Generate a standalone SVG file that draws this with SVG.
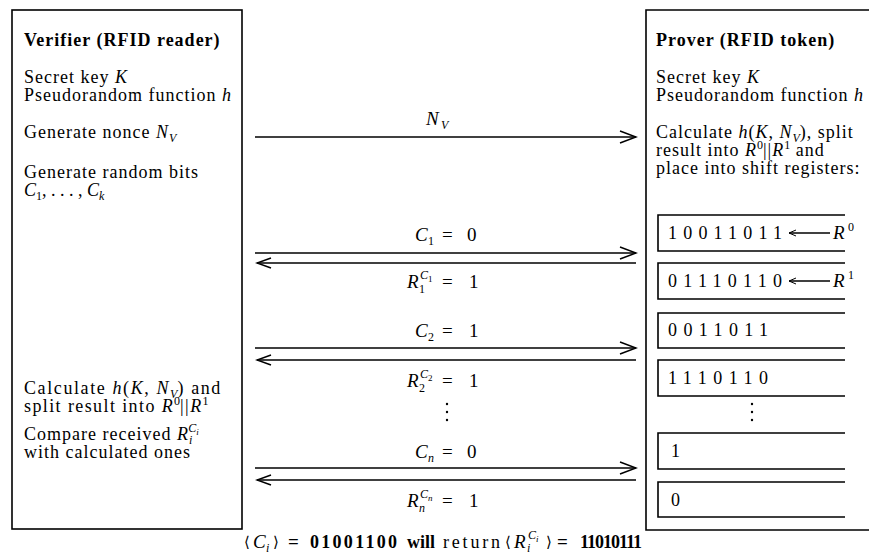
<svg xmlns="http://www.w3.org/2000/svg" width="869" height="559" viewBox="0 0 869 559">
<style>
text{font-family:"Liberation Serif","Times New Roman",serif;fill:#000}
.t{font-size:18px;letter-spacing:1px}
.m{font-size:19px}
.d{font-size:18px}
.b{font-weight:bold}
.i{font-style:italic}
.s{font-size:12px;letter-spacing:0}
.ss{font-size:9px;letter-spacing:0}
.ang{font-family:"DejaVu Serif","Liberation Serif",serif;font-size:15px}
.box{fill:none;stroke:#000;stroke-width:1.6}
.ln{fill:none;stroke:#000;stroke-width:1.5}
</style>
<defs>
<marker id="ah" markerUnits="userSpaceOnUse" markerWidth="20" markerHeight="16" viewBox="0 0 20 16" refX="18" refY="8" orient="auto"><path d="M2,2 L18,8 L2,14" fill="none" stroke="#000" stroke-width="1.5"/></marker>
<marker id="ahb" markerUnits="userSpaceOnUse" markerWidth="18" markerHeight="14" viewBox="0 0 18 14" refX="16" refY="7" orient="auto"><path d="M2,2 L16,7 L2,12" fill="none" stroke="#000" stroke-width="1.5"/></marker>
<marker id="ahx" markerUnits="userSpaceOnUse" markerWidth="10" markerHeight="8" viewBox="0 0 10 8" refX="9" refY="4" orient="auto"><path d="M2,1 L9,4 L2,7" fill="none" stroke="#000" stroke-width="1"/></marker>
</defs>
<rect width="869" height="559" fill="#fff"/>

<g id="verifier">
<rect class="box" x="12" y="10" width="230" height="519"/>
<text x="24" y="46" class="t b">Verifier (RFID reader)</text>
<text x="24" y="83" class="t">Secret key <tspan class="i">K</tspan></text>
<text x="24" y="101" class="t">Pseudorandom function <tspan class="i">h</tspan></text>
<text x="24" y="138" class="t">Generate nonce <tspan class="i">N</tspan><tspan class="i s" dy="4">V</tspan></text>
<text x="24" y="178" class="t">Generate random bits</text>
<text x="24" y="196" class="t" style="letter-spacing:0"><tspan class="i">C</tspan><tspan class="s" dy="4">1</tspan><tspan dy="-4">, . . . , </tspan><tspan class="i">C</tspan><tspan class="i s" dy="4">k</tspan></text>
<text x="24" y="394" class="t" style="letter-spacing:1.6px">Calculate <tspan class="i">h</tspan>(<tspan class="i">K</tspan>, <tspan class="i">N</tspan><tspan class="i s" dy="4">V</tspan><tspan dy="-4">) and</tspan></text>
<text x="24" y="412" class="t" style="letter-spacing:1.4px">split result into <tspan class="i">R</tspan><tspan class="s" dy="-7">0</tspan><tspan dy="7">||</tspan><tspan class="i">R</tspan><tspan class="s" dy="-7">1</tspan></text>
<text x="24" y="440" class="t">Compare received <tspan class="i">R</tspan><tspan class="i s" dy="4">i</tspan><tspan class="i s" dx="-4" dy="-12">C</tspan><tspan class="i ss" dy="3">i</tspan></text>
<text x="24" y="458" class="t">with calculated ones</text>
</g>

<g id="prover">
<path class="box" d="M880,10 H646 V530 H880"/>
<text x="656" y="46" class="t b">Prover (RFID token)</text>
<text x="656" y="83" class="t">Secret key <tspan class="i">K</tspan></text>
<text x="656" y="101" class="t">Pseudorandom function <tspan class="i">h</tspan></text>
<text x="656" y="138" class="t">Calculate <tspan class="i">h</tspan>(<tspan class="i">K</tspan>, <tspan class="i">N</tspan><tspan class="i s" dy="4">V</tspan><tspan dy="-4">), split</tspan></text>
<text x="656" y="156" class="t">result into <tspan class="i">R</tspan><tspan class="s" dy="-7">0</tspan><tspan dy="7">||</tspan><tspan class="i">R</tspan><tspan class="s" dy="-7">1</tspan><tspan dy="7"> and</tspan></text>
<text x="656" y="174" class="t">place into shift registers:</text>
</g>

<g id="reg1">
<path class="box" d="M845,215 H658 V251 H845"/>
<text x="668" y="239" class="d" textLength="114" lengthAdjust="spacing">10011011</text>
<path class="ln" d="M830,233 H789" stroke-width="1.2" marker-end="url(#ahx)"/>
<text x="833" y="239" class="m i">R</text><text x="848" y="231" class="d s">0</text>
</g>
<g id="reg2">
<path class="box" d="M845,263 H658 V299 H845"/>
<text x="668" y="287" class="d" textLength="114" lengthAdjust="spacing">01110110</text>
<path class="ln" d="M830,281 H789" stroke-width="1.2" marker-end="url(#ahx)"/>
<text x="833" y="287" class="m i">R</text><text x="848" y="279" class="d s">1</text>
</g>
<g id="reg3">
<path class="box" d="M845,313 H658 V348 H845"/>
<text x="668" y="336" class="d" textLength="100" lengthAdjust="spacing">0011011</text>
</g>
<g id="reg4">
<path class="box" d="M845,360 H658 V396 H845"/>
<text x="668" y="384" class="d" textLength="100" lengthAdjust="spacing">1110110</text>
</g>
<g id="regdots">
<circle cx="752" cy="404" r="1.2"/><circle cx="752" cy="412" r="1.2"/><circle cx="752" cy="420" r="1.2"/>
</g>
<g id="reg5">
<path class="box" d="M845,433 H658 V469 H845"/>
<text x="671" y="457" class="d">1</text>
</g>
<g id="reg6">
<path class="box" d="M845,482 H658 V517 H845"/>
<text x="671" y="506" class="d">0</text>
</g>

<g id="connectors">
<path class="ln" d="M255,137 H636" marker-end="url(#ah)"/>
<path class="ln" d="M255,253 H636" marker-end="url(#ah)"/>
<path class="ln" d="M636,263 H257" marker-end="url(#ahb)"/>
<path class="ln" d="M255,348 H636" marker-end="url(#ah)"/>
<path class="ln" d="M636,360 H257" marker-end="url(#ahb)"/>
<path class="ln" d="M255,468 H636" marker-end="url(#ah)"/>
<path class="ln" d="M636,480 H257" marker-end="url(#ahb)"/>
</g>

<g id="labels">
<text x="426" y="125" class="m i">N</text><text x="441" y="129" class="d i s">V</text>

<text x="415" y="241" class="m i">C</text><text x="428" y="245" class="d s">1</text>
<text x="442" y="241" class="m">=</text><text x="467" y="241" class="m">0</text>

<text x="407" y="288" class="m i">R</text><text x="419" y="293" class="d s">1</text>
<text x="420" y="279" class="d s i">C</text><text x="428" y="282" class="d ss">1</text>
<text x="442" y="288" class="m">=</text><text x="469" y="288" class="m">1</text>

<text x="415" y="337" class="m i">C</text><text x="428" y="341" class="d s">2</text>
<text x="442" y="337" class="m">=</text><text x="469" y="337" class="m">1</text>

<text x="407" y="387" class="m i">R</text><text x="419" y="392" class="d s">2</text>
<text x="420" y="378" class="d s i">C</text><text x="428" y="381" class="d ss">2</text>
<text x="442" y="387" class="m">=</text><text x="469" y="387" class="m">1</text>

<circle cx="447" cy="404" r="1.2"/><circle cx="447" cy="412" r="1.2"/><circle cx="447" cy="420" r="1.2"/>

<text x="415" y="458" class="m i">C</text><text x="428" y="462" class="d s i">n</text>
<text x="442" y="458" class="m">=</text><text x="467" y="458" class="m">0</text>

<text x="407" y="507" class="m i">R</text><text x="419" y="512" class="d s i">n</text>
<text x="420" y="498" class="d s i">C</text><text x="428" y="501" class="d ss i">n</text>
<text x="442" y="507" class="m">=</text><text x="469" y="507" class="m">1</text>
</g>

<g id="caption">
<text x="244" y="547" class="ang">⟨</text>
<text x="253" y="548" class="m i">C</text><text x="266" y="552" class="d s i">i</text>
<text x="273" y="547" class="ang">⟩</text>
<text x="288" y="548" class="m b">=</text>
<text x="310" y="548" class="d b" textLength="87" lengthAdjust="spacing">01001100</text>
<text x="407" y="548" class="d b">will</text>
<text x="443" y="548" class="d" textLength="57" lengthAdjust="spacing">return</text>
<text x="505" y="547" class="ang">⟨</text>
<text x="514" y="548" class="m i">R</text><text x="527" y="552" class="d s i">i</text>
<text x="528" y="539" class="d s i">C</text><text x="536" y="542" class="d ss i">i</text>
<text x="546" y="547" class="ang">⟩</text>
<text x="557" y="548" class="m b">=</text>
<text x="580" y="548" class="d b" textLength="62" lengthAdjust="spacing">11010111</text>
</g>
</svg>
